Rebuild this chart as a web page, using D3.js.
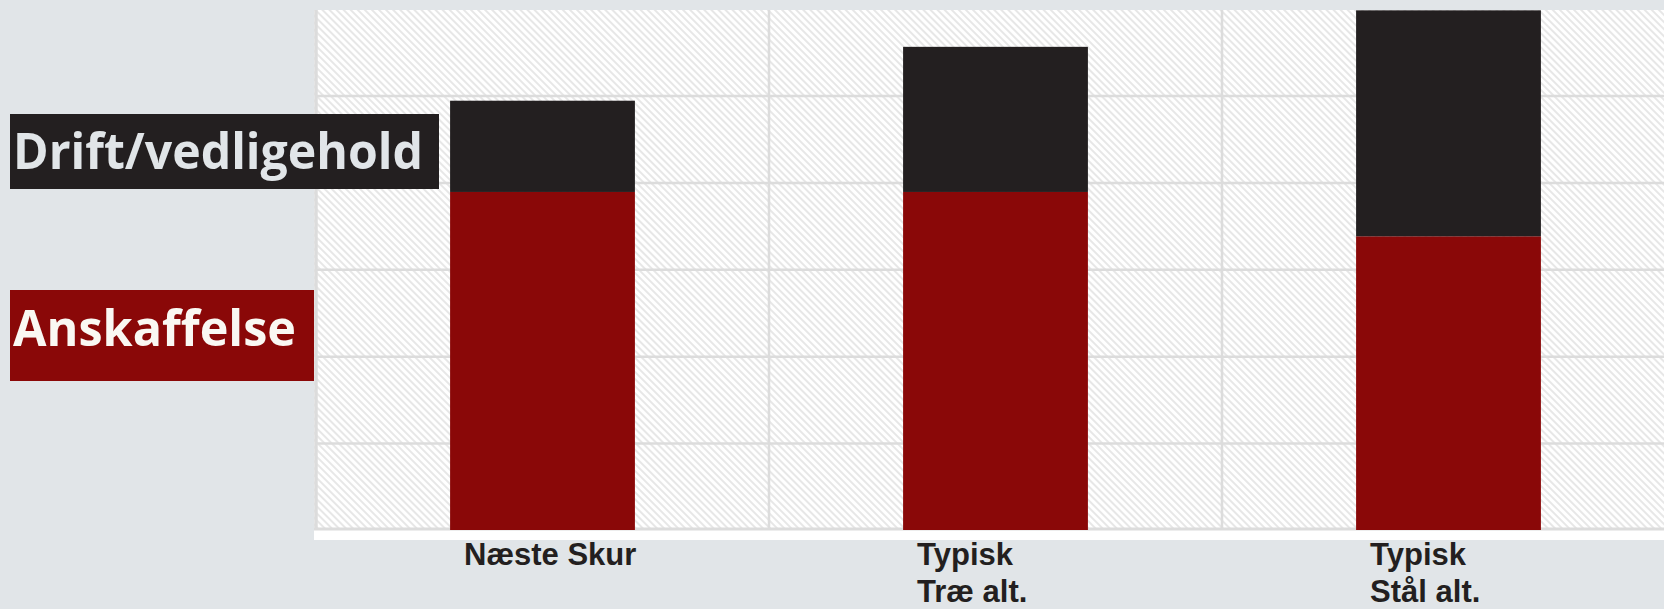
<!DOCTYPE html>
<html><head><meta charset="utf-8">
<script src="https://cdn.jsdelivr.net/npm/d3@7"></script>
<style>
html,body{margin:0;padding:0;background:#e1e5e8;}
svg{display:block;}
</style></head>
<body>
<script>
// ---- data ----
const categories = ["Næste Skur", "Typisk Træ alt.", "Typisk Stål alt."];
const categoryLines = [["Næste Skur"], ["Typisk", "Træ alt."], ["Typisk", "Stål alt."]];
const seriesNames = ["Anskaffelse", "Drift/vedligehold"];
const anskaffelse = [3.89, 3.89, 3.38];
const drift = [1.05, 1.67, 2.60];
const yTicks = [0, 1, 2, 3, 4, 5, 6];

const W = 1664, H = 609;
const colors = {"Anskaffelse": "#8a0808", "Drift/vedligehold": "#231f20"};

const svg = d3.select("body").append("svg").attr("width", W).attr("height", H);
svg.append("rect").attr("width", W).attr("height", H).attr("fill", "#e1e5e8");

const defs = svg.append("defs");
const pat = defs.append("pattern").attr("id", "hatch").attr("patternUnits", "userSpaceOnUse")
  .attr("width", 5).attr("height", 5).attr("patternTransform", "rotate(-45)");
pat.append("rect").attr("width", 5).attr("height", 5).attr("fill", "#ffffff");
pat.append("line").attr("x1", 1).attr("y1", 0).attr("x2", 1).attr("y2", 5)
  .attr("stroke", "#e0e0e0").attr("stroke-width", 1.5);

const x = d3.scaleBand().domain(categories).range([316, 1675]).paddingInner(0.592).paddingOuter(0.296);
const y = d3.scaleLinear().domain([0, 6]).range([530, 530 - 6 * 86.9]);

// plot background
svg.append("rect").attr("x", 314).attr("y", 10).attr("width", W - 314).attr("height", 530)
  .attr("fill", "#ffffff");
svg.append("rect").attr("x", 314).attr("y", 10).attr("width", W - 314).attr("height", 519)
  .attr("fill", "url(#hatch)");

// horizontal gridlines
svg.append("g").selectAll("line").data(yTicks.filter(t => t > 0 && y(t) > 12)).join("line")
  .attr("x1", 316).attr("x2", W).attr("y1", d => y(d) + 0.5).attr("y2", d => y(d) + 0.5)
  .attr("stroke", "#dcdcdc").attr("stroke-width", 2.5);
// baseline
svg.append("line").attr("x1", 314).attr("x2", W).attr("y1", y(0) - 1).attr("y2", y(0) - 1)
  .attr("stroke", "#dcdcdc").attr("stroke-width", 3);
// vertical gridlines at band boundaries
const step = x.step();
svg.append("g").selectAll("line").data(categories).join("line")
  .attr("x1", d => x(d) - step * x.paddingInner() / 2)
  .attr("x2", d => x(d) - step * x.paddingInner() / 2)
  .attr("y1", 10).attr("y2", y(0))
  .attr("stroke", "#dcdcdc").attr("stroke-width", (d, i) => i === 0 ? 3.5 : 2.5);

// stacked bars
const rows = categories.map((c, i) => ({cat: c, "Anskaffelse": anskaffelse[i], "Drift/vedligehold": drift[i]}));
const stack = d3.stack().keys(seriesNames)(rows);
svg.append("g").selectAll("g").data(stack).join("g")
  .attr("fill", s => colors[s.key])
  .selectAll("rect").data(s => s).join("rect")
  .attr("x", d => x(d.data.cat))
  .attr("width", x.bandwidth())
  .attr("y", d => y(d[1]))
  .attr("height", d => y(d[0]) - y(d[1]));

// category labels
const labG = svg.append("g");
categories.forEach((c, i) => {
  const t = labG.append("text").attr("x", x(c) + 14).attr("y", 565)
    .attr("font-family", "'Liberation Sans Narrow','Liberation Sans',Arial,sans-serif")
    .attr("font-weight", "bold").attr("font-size", 31).attr("fill", "#231f20");
  categoryLines[i].forEach((ln, j) => {
    t.append("tspan").attr("x", x(c) + 14).attr("dy", j === 0 ? 0 : 37).text(ln);
  });
});

// legend boxes
const legend = [
  {key: "Drift/vedligehold", x: 10, y: 114, w: 429, h: 75, base: 169, tw: 410, tc: "#e1e5e8"},
  {key: "Anskaffelse", x: 10, y: 290, w: 304, h: 91, base: 346, tw: 283, tc: "#faf8f3"}
];
const lg = svg.append("g");
legend.forEach(l => {
  lg.append("rect").attr("x", l.x).attr("y", l.y).attr("width", l.w).attr("height", l.h)
    .attr("fill", colors[l.key]);
  lg.append("text").attr("x", 13).attr("y", l.base)
    .attr("font-family", "'Open Sans','Noto Sans',sans-serif").attr("font-weight", "bold")
    .attr("font-size", 51).attr("fill", l.tc)
    .attr("textLength", l.tw).attr("lengthAdjust", "spacingAndGlyphs")
    .text(l.key);
});
</script>
</body></html>
